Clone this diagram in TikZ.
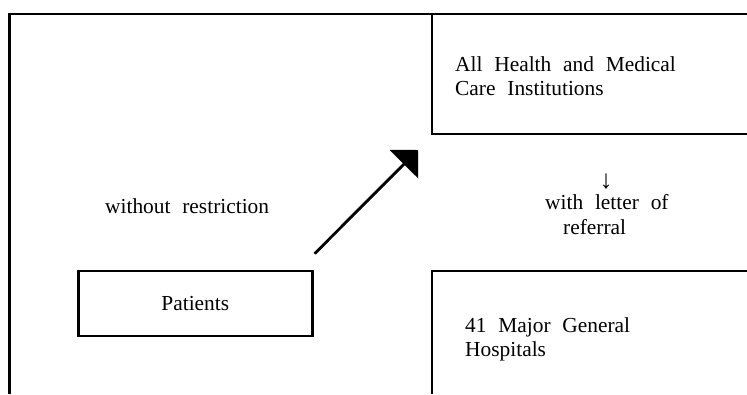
\documentclass[tikz,border=0pt]{standalone}
\usepackage{fontspec}
\setmainfont{Liberation Serif}[WordSpace=2.2]
\usetikzlibrary{arrows.meta,calc}
\begin{document}
\begin{tikzpicture}[x=1pt, y=-1pt,
  rule/.style={line width=2.7pt, line join=miter},
  caption/.style={inner sep=0pt, anchor=base west, align=left,
    font=\fontsize{21.4}{24.5}\selectfont},
  patientbox/.style={rule, draw, minimum width=234pt, minimum height=65pt,
    inner sep=0pt, font=\fontsize{21.4}{24.5}\selectfont},
  flow/.style={line width=2.8pt, -{Triangle[length=20pt, width=40pt]}}]
  \useasboundingbox (0,0) rectangle (747,394);

  % outer frame, open at the right and bottom
  \draw[rule] (9.5,394) -- (9.5,14) -- (747,14);
  % upper right compartment
  \draw[rule] (432,14) -- (432,134) -- (747,134);
  % lower right compartment
  \draw[rule] (747,271) -- (432,271) -- (432,394);

  % two-line captions are placed by the baseline of their last line
  \node[caption] (allcare) at (455,95.5) {All Health and Medical\\Care Institutions};
  \node[caption] (major) at (465,356.5) {41 Major General\\Hospitals};
  \node[caption] (free) at (105,213) {without restriction};
  \node[caption] (letter) at (545,234) {with letter of\\\hspace*{18pt}referral};
  \node[inner sep=0pt, anchor=south, font=\fontsize{26}{26}\selectfont] (down) at (606,189) {↓};

  \node[patientbox] (patients) at (195.3,303.5) {Patients};

  \coordinate (astart) at ($(patients.north east)+(1,-16)$);
  \coordinate (aend) at (418,150);
  \draw[flow] (astart) -- (aend);
\end{tikzpicture}
\end{document}
